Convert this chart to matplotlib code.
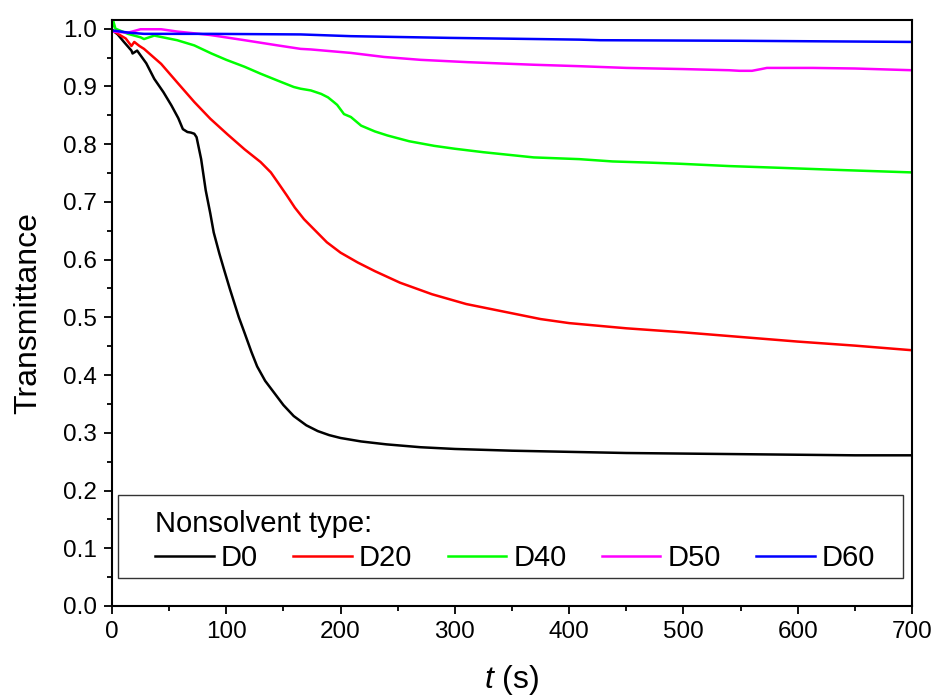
import matplotlib
matplotlib.use("Agg")
import matplotlib.pyplot as plt
from matplotlib.ticker import MultipleLocator
from matplotlib.patches import Rectangle

plt.rcParams['font.family'] = ['Liberation Sans', 'DejaVu Sans']
plt.rcParams['mathtext.fontset'] = 'custom'
plt.rcParams['mathtext.it'] = 'Liberation Sans:italic'
plt.rcParams['mathtext.rm'] = 'Liberation Sans'

labels = ["D0", "D20", "D40", "D50", "D60"]
colors = ["#000000", "#FF0000", "#00FF00", "#FF00FF", "#0000FF"]

t_D0 = [0, 5, 10, 17, 18, 22, 30, 37, 45, 52, 58, 62, 66, 69, 72, 74, 78, 82, 86, 89, 94, 98,
        103, 107, 111, 116, 122, 127, 134, 142, 150, 159, 170, 180, 190, 200, 218, 240, 270,
        300, 350, 400, 450, 500, 550, 600, 650, 700]
T_D0 = [0.998, 0.99, 0.978, 0.962, 0.957, 0.962, 0.94, 0.913, 0.89, 0.867, 0.845, 0.826, 0.821,
        0.820, 0.818, 0.812, 0.774, 0.72, 0.68, 0.647, 0.61, 0.583, 0.55, 0.525, 0.50, 0.473,
        0.44, 0.415, 0.39, 0.369, 0.348, 0.329, 0.313, 0.303, 0.296, 0.291, 0.285, 0.28, 0.275,
        0.272, 0.269, 0.267, 0.265, 0.264, 0.263, 0.262, 0.261, 0.261]

t_D20 = [0, 6, 12, 17, 19.5, 24, 28, 43, 57, 72, 86, 101, 116, 130, 139, 145, 153, 160, 168,
         178, 188, 200, 215, 230, 252, 280, 310, 340, 375, 400, 450, 500, 550, 600, 650, 700]
T_D20 = [0.998, 0.99, 0.983, 0.970, 0.977, 0.970, 0.965, 0.939, 0.907, 0.873, 0.844, 0.817,
         0.791, 0.769, 0.751, 0.734, 0.711, 0.69, 0.670, 0.65, 0.630, 0.612, 0.595, 0.58,
         0.560, 0.54, 0.523, 0.511, 0.497, 0.49, 0.481, 0.474, 0.466, 0.458, 0.451, 0.443]

t_D40 = [0, 1, 3, 14, 25, 28, 37, 57, 72, 87, 100, 116, 130, 145, 159, 165, 174, 183, 189, 194,
         197, 203, 209, 218, 230, 241, 260, 282, 300, 325, 369, 409, 438, 470, 497, 540, 584,
         640, 700]
T_D40 = [1.0, 1.014, 1.0, 0.991, 0.985, 0.982, 0.988, 0.98, 0.971, 0.957, 0.946, 0.934, 0.922,
         0.910, 0.899, 0.896, 0.893, 0.887, 0.881, 0.873, 0.868, 0.852, 0.847, 0.832, 0.822,
         0.815, 0.805, 0.797, 0.792, 0.786, 0.777, 0.774, 0.770, 0.768, 0.766, 0.762, 0.759,
         0.755, 0.751]

t_D50 = [0, 14, 25, 43, 57, 86, 116, 145, 165, 174, 209, 238, 270, 311, 369, 409, 450, 500, 540,
         549, 560, 568, 573, 613, 650, 700]
T_D50 = [0.995, 0.993, 0.999, 0.999, 0.995, 0.989, 0.980, 0.971, 0.965, 0.964, 0.958, 0.951,
         0.946, 0.942, 0.9375, 0.935, 0.932, 0.93, 0.928, 0.927, 0.927, 0.930, 0.932, 0.932,
         0.931, 0.928]

t_D60 = [0, 15, 28, 86, 165, 209, 296, 409, 427, 550, 700]
T_D60 = [0.997, 0.993, 0.991, 0.991, 0.990, 0.987, 0.984, 0.981, 0.98, 0.979, 0.977]

series_t = [t_D0, t_D20, t_D40, t_D50, t_D60]
series_T = [T_D0, T_D20, T_D40, T_D50, T_D60]

fig = plt.figure(figsize=(9.41, 7.0), dpi=100)
ax = fig.add_axes([112/941, 94/700, 800/941, 586/700])

for t, T, lab, c in zip(series_t, series_T, labels, colors):
    ax.plot(t, T, color=c, lw=1.8, label=lab)

ax.set_xlim(0, 700)
ax.set_ylim(0, 1.015)
ax.xaxis.set_major_locator(MultipleLocator(100))
ax.xaxis.set_minor_locator(MultipleLocator(50))
ax.yaxis.set_major_locator(MultipleLocator(0.1))
ax.yaxis.set_minor_locator(MultipleLocator(0.05))
ax.yaxis.set_major_formatter(matplotlib.ticker.FormatStrFormatter('%.1f'))
ax.tick_params(which='major', direction='out', length=6, width=1.3, labelsize=17.5, pad=5)
ax.tick_params(which='minor', direction='out', length=3.5, width=1.3)
for s in ax.spines.values():
    s.set_linewidth(1.5)

ax.set_xlabel(r'$t$ (s)', fontsize=23, labelpad=14)
ax.set_ylabel('Transmittance', fontsize=23, labelpad=14)

# legend frame
ax.add_patch(Rectangle((0.0075, 0.048), 0.9815, 0.141, transform=ax.transAxes,
                       facecolor='white', edgecolor='#333333', lw=1.0, zorder=4))
leg = ax.legend(loc='lower left', bbox_to_anchor=(0.054, 0.058, 0.90, 0.1),
                mode='expand', ncol=5, fontsize=21, title='Nonsolvent type:',
                title_fontsize=21, alignment='left', frameon=False,
                handlelength=2.0, handletextpad=0.25, labelspacing=0.2,
                borderpad=0, borderaxespad=0)
leg.set_zorder(5)

fig.savefig('out.png', dpi=100)
